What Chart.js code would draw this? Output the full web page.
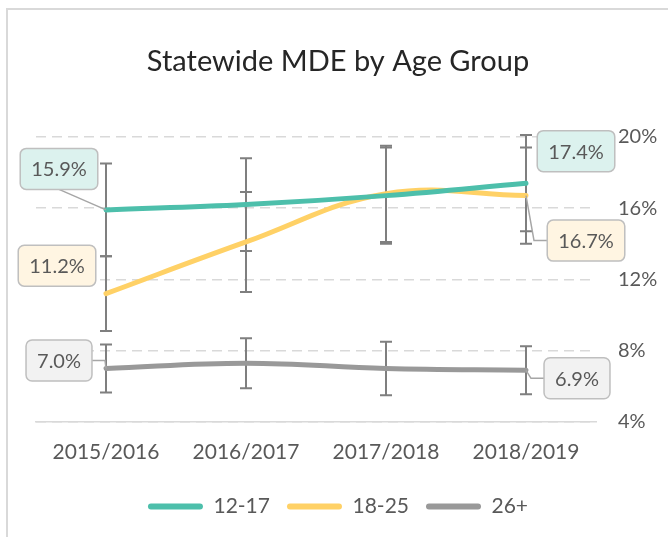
<!DOCTYPE html>
<html lang="en">

<head>
    <meta charset="UTF-8">
    <title>Statewide MDE by Age Group</title>
    <script src="https://cdn.jsdelivr.net/npm/chart.js"></script>
    <style>
        body { margin: 0; background: #fff; }
        .caixa { position: relative; width: 668px; height: 537px; }
    </style>
</head>

<body>
    <div class="caixa">
        <canvas id="grafico_mde"></canvas>
    </div>
</body>

<script>
    // data
    const anos = ["2015/2016", "2016/2017", "2017/2018", "2018/2019"];
    const grupos = ["12-17", "18-25", "26+"];
    const valores1217 = [15.9, 16.2, 16.7, 17.4];
    const valores1825 = [11.2, 14.1, 16.8, 16.7];
    const valores26 = [7.0, 7.3, 7.0, 6.9];
    // error bar half widths (percentage points)
    const erro1217 = [2.6, 2.6, 2.7, 2.7];
    const erro1825 = [2.1, 2.8, 2.7, 2.7];
    const erro26 = [1.35, 1.4, 1.5, 1.35];
    const ticksY = [4, 8, 12, 16, 20];

    const fonte = "Lato";
    const cinzaTexto = "#595959";

    // callout boxes for first / last point: offsets from the point and leader style
    const rotulos = [
        { fundo: "#dcf2ee", pontos: { 0: { dx: -47, dy: -41, linha: "baixo" }, 3: { dx: 50, dy: -32 } } },
        { fundo: "#fff5e2", pontos: { 0: { dx: -49, dy: -28 }, 3: { dx: 60, dy: 45, linha: "esq", cotovelo: 8 } } },
        { fundo: "#f2f2f2", pontos: { 0: { dx: -47, dy: -8, linha: "dir", cotovelo: -1 }, 3: { dx: 51, dy: 8, linha: "esq", cotovelo: 5 } } }
    ];

    const moldura = {
        id: "moldura",
        beforeDraw(chart) {
            const ctx = chart.ctx;
            ctx.save();
            ctx.strokeStyle = "#d9d9d9";
            ctx.lineWidth = 2;
            ctx.strokeRect(7, 9, 760, 640);
            ctx.restore();
        }
    };

    const barrasErro = {
        id: "barrasErro",
        beforeDatasetsDraw(chart) {
            const ctx = chart.ctx;
            const x = chart.scales.x;
            const y = chart.scales.y;
            const erros = [erro1217, erro1825, erro26];
            ctx.save();
            ctx.strokeStyle = "#7f7f7f";
            ctx.lineWidth = 2;
            chart.data.datasets.forEach(function (ds, d) {
                ds.data.forEach(function (v, i) {
                    const px = x.getPixelForValue(i);
                    const topo = y.getPixelForValue(v + erros[d][i]);
                    const base = y.getPixelForValue(v - erros[d][i]);
                    ctx.beginPath();
                    ctx.moveTo(px, topo);
                    ctx.lineTo(px, base);
                    ctx.moveTo(px - 6, topo);
                    ctx.lineTo(px + 6, topo);
                    ctx.moveTo(px - 6, base);
                    ctx.lineTo(px + 6, base);
                    ctx.stroke();
                });
            });
            ctx.restore();
        }
    };

    const caixasValor = {
        id: "caixasValor",
        afterDatasetsDraw(chart) {
            const ctx = chart.ctx;
            ctx.save();
            ctx.font = "20px " + fonte;
            ctx.textAlign = "center";
            ctx.textBaseline = "middle";
            chart.data.datasets.forEach(function (ds, d) {
                const meta = chart.getDatasetMeta(d);
                const cfg = rotulos[d];
                Object.keys(cfg.pontos).forEach(function (k) {
                    const i = Number(k);
                    const p = cfg.pontos[k];
                    const pt = meta.data[i];
                    const texto = ds.data[i].toFixed(1) + "%";
                    const w = ctx.measureText(texto).width + 22;
                    const h = 41;
                    const cx = pt.x + p.dx;
                    const cy = pt.y + p.dy;

                    ctx.strokeStyle = "#a6a6a6";
                    ctx.lineWidth = 1.5;
                    ctx.beginPath();
                    if (p.linha === "baixo") {
                        ctx.moveTo(cx, cy + h / 2);
                        ctx.lineTo(pt.x, pt.y);
                    } else if (p.linha === "esq") {
                        ctx.moveTo(cx - w / 2, cy);
                        ctx.lineTo(pt.x + p.cotovelo, cy);
                        ctx.lineTo(pt.x, pt.y);
                    } else if (p.linha === "dir") {
                        ctx.moveTo(cx + w / 2, cy);
                        ctx.lineTo(pt.x + p.cotovelo, cy);
                        ctx.lineTo(pt.x, pt.y);
                    }
                    ctx.stroke();

                    ctx.beginPath();
                    ctx.roundRect(cx - w / 2, cy - h / 2, w, h, 6);
                    ctx.fillStyle = cfg.fundo;
                    ctx.fill();
                    ctx.strokeStyle = "#bfbfbf";
                    ctx.stroke();

                    ctx.fillStyle = cinzaTexto;
                    ctx.fillText(texto, cx, cy + 1);
                });
            });
            ctx.restore();
        }
    };

    function serie(nome, dados, cor) {
        return {
            label: nome,
            data: dados,
            yAxisID: "y",
            borderColor: cor,
            backgroundColor: cor,
            borderWidth: 5,
            borderCapStyle: "round",
            tension: 0.4,
            pointRadius: 0,
            pointHoverRadius: 0
        };
    }

    const config = {
        type: "line",
        data: {
            labels: anos,
            datasets: [
                serie(grupos[0], valores1217, "#4dbfab"),
                serie(grupos[1], valores1825, "#ffd166"),
                serie(grupos[2], valores26, "#999999")
            ]
        },
        options: {
            responsive: true,
            maintainAspectRatio: false,
            animation: false,
            layout: { padding: { left: 18, right: 10, top: 0, bottom: 10 } },
            plugins: {
                tooltip: { enabled: false },
                title: {
                    display: true,
                    text: "Statewide MDE by Age Group",
                    color: "#262626",
                    font: { family: fonte, size: 29, weight: "normal" },
                    padding: { top: 44, bottom: 58 }
                },
                legend: {
                    position: "bottom",
                    labels: {
                        color: cinzaTexto,
                        font: { family: fonte, size: 21 },
                        boxWidth: 55,
                        boxHeight: 6,
                        padding: 17,
                        useBorderRadius: true,
                        generateLabels: function (chart) {
                            return Chart.defaults.plugins.legend.labels.generateLabels(chart).map(function (l) {
                                l.lineWidth = 0;
                                l.borderRadius = 3;
                                return l;
                            });
                        }
                    }
                }
            },
            scales: {
                x: {
                    offset: true,
                    grid: { display: false, drawTicks: false },
                    border: { display: true, color: "#d9d9d9", width: 1.5 },
                    ticks: { color: cinzaTexto, font: { family: fonte, size: 21 }, padding: 18, maxRotation: 0 },
                    afterFit: function (s) { s.height = 57; }
                },
                y: {
                    position: "right",
                    min: ticksY[0],
                    max: ticksY[ticksY.length - 1],
                    grid: { color: "#d9d9d9", lineWidth: 1.5, drawTicks: false },
                    border: { display: false, dash: [10, 6] },
                    afterBuildTicks: function (s) { s.ticks = ticksY.map(function (v) { return { value: v }; }); },
                    ticks: {
                        color: cinzaTexto,
                        font: { family: fonte, size: 20 },
                        padding: 22,
                        callback: function (v) { return v + "%"; }
                    },
                    afterFit: function (s) { s.width = 62; }
                },
                // empty left spacer so the plot starts where the reference does
                vazio: {
                    position: "left",
                    grid: { display: false, drawTicks: false },
                    border: { display: false },
                    ticks: { display: false },
                    afterFit: function (s) { s.width = 18; }
                }
            }
        },
        plugins: [moldura, barrasErro, caixasValor]
    };

    const meuGrafico = new Chart(document.getElementById("grafico_mde"), config);
</script>

</html>
